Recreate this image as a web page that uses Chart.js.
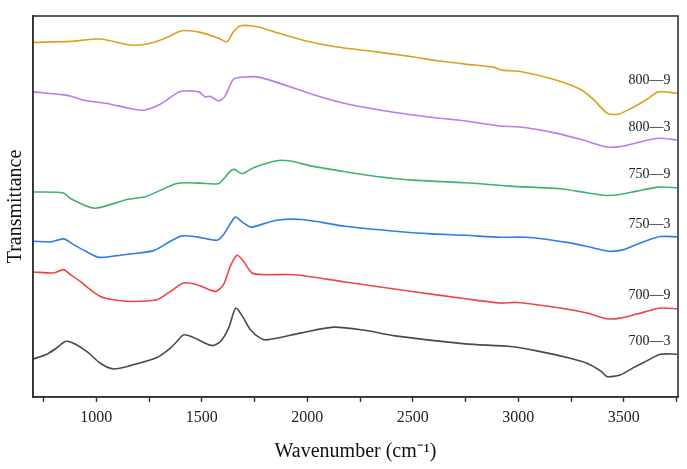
<!DOCTYPE html>
<html>
<head>
<meta charset="utf-8">
<script src="https://cdn.jsdelivr.net/npm/chart.js@4/dist/chart.umd.min.js"></script>
<style>
  html, body { margin: 0; padding: 0; background: #fff; }
  #wrap { width: 687px; height: 469px; }
</style>
</head>
<body>
<div id="wrap"><canvas id="ftir"></canvas></div>
<script>
// ---------------------- Data ----------------------
const seriesNames = ['800\u20149', '800\u20143', '750\u20149', '750\u20143', '700\u20149', '700\u20143'];
const seriesColors = ['#D9A21E', '#B87CEB', '#3DB36E', '#2F7DE8', '#F04343', '#4A4A4A'];
const xTicks = [750, 1000, 1250, 1500, 1750, 2000, 2250, 2500, 2750, 3000, 3250, 3500, 3750];

// 800-9
const wn8009 = [703, 877, 1019, 1161, 1240, 1318, 1406, 1493, 1578, 1619, 1649, 1682, 1730, 1768, 1862, 1990, 2133, 2336, 2498, 2621, 2749, 2882, 2924, 3009, 3166, 3294, 3355, 3422, 3474, 3545, 3611, 3663, 3753];
const t8009 = [353.7, 354.7, 357, 351, 352, 357, 365.3, 363.7, 358, 354.3, 364, 370.3, 370.3, 369, 363, 355.3, 349.3, 344, 339.3, 335.3, 332, 329, 326, 324.7, 317, 307, 297, 283, 282, 289, 297, 304.3, 303];

// 800-3
const wn8003 = [703, 845, 892, 940, 1051, 1161, 1224, 1303, 1398, 1485, 1517, 1540, 1580, 1611, 1651, 1722, 1762, 1833, 2022, 2180, 2417, 2575, 2749, 2915, 3009, 3166, 3294, 3420, 3483, 3578, 3665, 3752];
const t8003 = [304.3, 301.3, 299.3, 296, 292.7, 287.7, 286, 292, 304.7, 304.3, 299.3, 300, 295.3, 300.3, 317, 319.3, 319.3, 315.3, 302, 292.7, 283.7, 279.3, 275.3, 270.3, 269.3, 263.7, 257, 249.3, 249.7, 254.3, 258, 256.3];

// 750-9
const wn7509 = [703, 845, 877, 991, 1145, 1240, 1382, 1493, 1580, 1635, 1655, 1690, 1745, 1856, 1919, 2022, 2180, 2338, 2496, 2749, 2962, 3199, 3325, 3420, 3483, 3562, 3665, 3752];
const t7509 = [204.5, 203.5, 198, 188.3, 197, 200.3, 213, 213.3, 213, 225.3, 227, 222.7, 228.7, 235.7, 235.3, 230.3, 224.7, 219.7, 216.3, 213.7, 210.3, 207.7, 203.7, 201, 202, 205.3, 209.3, 208.7];

// 750-3
const wn7503 = [703, 782, 845, 892, 956, 1011, 1098, 1161, 1272, 1351, 1406, 1477, 1572, 1603, 1659, 1690, 1730, 1745, 1856, 1975, 2180, 2417, 2591, 2749, 2915, 3041, 3246, 3357, 3436, 3499, 3578, 3673, 3752];
const t7503 = [155.3, 154.7, 157.7, 152, 144.7, 139.3, 141, 142.7, 146, 155.3, 160.7, 159.7, 156.3, 162, 179.5, 174.7, 169.5, 169.7, 176.3, 177, 170.3, 165.3, 162.7, 161.3, 159.3, 159.3, 153.7, 148.7, 145.3, 147, 153.7, 160, 159.7];

// 700-9
const wn7009 = [703, 798, 845, 877, 924, 972, 1019, 1082, 1161, 1288, 1351, 1414, 1477, 1564, 1603, 1635, 1667, 1698, 1738, 1801, 1943, 2180, 2496, 2749, 2915, 2994, 3199, 3325, 3420, 3483, 3562, 3673, 3752];
const t7009 = [124.7, 123.7, 127, 122, 115.3, 107, 100.3, 97, 95.3, 97, 105.3, 113.7, 112, 105.3, 112, 130.3, 141.3, 135.3, 123.7, 122, 122, 114.7, 105.3, 98, 93.7, 94.3, 88.7, 83.7, 78, 78.7, 82.7, 88.7, 88];

// 700-3
const wn7003 = [703, 766, 806, 853, 892, 956, 1019, 1082, 1161, 1288, 1351, 1382, 1414, 1461, 1548, 1588, 1627, 1661, 1698, 1730, 1777, 1809, 1967, 2125, 2259, 2417, 2749, 2962, 3088, 3246, 3325, 3395, 3420, 3483, 3546, 3609, 3673, 3752];
const t7003 = [38, 42.7, 48, 55.3, 53.7, 45.3, 33.7, 28, 31.3, 39.3, 48.7, 55.3, 62, 59.3, 51.3, 55.3, 68.7, 88.7, 78.7, 67, 58.7, 57, 63.7, 69.7, 67, 61, 53, 50.3, 46, 38.7, 33.7, 25.3, 20.3, 22, 29.3, 36, 42.7, 42.7];

const xList = [wn8009, wn8003, wn7509, wn7503, wn7009, wn7003];
const yList = [t8009, t8003, t7509, t7503, t7009, t7003];

// ---------------------- Plugins ------------------------------
// frame around the plot area
const framePlugin = {
  id: 'frame',
  afterDraw(chart) {
    const { ctx, chartArea: a } = chart;
    ctx.save();
    ctx.strokeStyle = '#333';
    ctx.lineWidth = 1.6;
    ctx.strokeRect(a.left, a.top, a.right - a.left, a.bottom - a.top);
    ctx.restore();
  }
};

// sample names sitting just above the right end of each curve
const namePlugin = {
  id: 'names',
  afterDatasetsDraw(chart) {
    const { ctx, scales } = chart;
    ctx.save();
    ctx.font = '14px "Liberation Serif", "Times New Roman", serif';
    ctx.fillStyle = '#222';
    ctx.textAlign = 'right';
    ctx.textBaseline = 'middle';
    seriesNames.forEach((name, i) => {
      const ys = yList[i];
      const px = scales.x.getPixelForValue(3740) - 4;
      const py = scales.y.getPixelForValue(ys[ys.length - 1]) - 13;
      ctx.fillText(name, px, py);
    });
    ctx.restore();
  }
};

// ---------------------- Chart ------------------------------
const serif = '"Liberation Serif", "Times New Roman", serif';

new Chart(document.getElementById('ftir'), {
  type: 'line',
  data: {
    datasets: seriesNames.map((name, i) => ({
      label: name,
      data: xList[i].map((x, j) => ({ x: x, y: yList[i][j] })),
      borderColor: seriesColors[i],
      borderWidth: 1.6,
      pointRadius: 0,
      tension: 0.25,
      fill: false
    }))
  },
  options: {
    responsive: true,
    maintainAspectRatio: false,
    animation: false,
    layout: { padding: { top: 16, right: 9, left: 0, bottom: 0 } },
    plugins: {
      legend: { display: false },
      tooltip: { enabled: false }
    },
    scales: {
      x: {
        type: 'linear',
        min: 700,
        max: 3757,
        afterFit(scale) { scale.height = 72; },
        afterBuildTicks(scale) { scale.ticks = xTicks.map(v => ({ value: v })); },
        ticks: {
          autoSkip: false,
          maxRotation: 0,
          padding: 6,
          color: '#222',
          font: { family: serif, size: 16 },
          callback: v => (v % 500 === 0 && v < 3700 ? String(v) : '')
        },
        grid: {
          display: true,
          drawOnChartArea: false,
          drawTicks: true,
          tickLength: 5,
          tickWidth: 1.4,
          tickColor: '#333'
        },
        border: { display: true, color: '#333', width: 1.6 },
        title: {
          display: true,
          text: 'Wavenumber (cm\u207B\u00B9)',
          color: '#111',
          font: { family: serif, size: 20 },
          padding: { top: 0, bottom: 5 }
        }
      },
      y: {
        type: 'linear',
        min: 0,
        max: 380,
        afterFit(scale) { scale.width = 33; },
        ticks: { display: false },
        grid: { display: false },
        border: { display: true, color: '#333', width: 1.6 },
        title: {
          display: true,
          text: 'Transmittance',
          color: '#111',
          font: { family: serif, size: 20 },
          padding: { top: 4, bottom: 0 }
        }
      }
    }
  },
  plugins: [framePlugin, namePlugin]
});
</script>
</body>
</html>
